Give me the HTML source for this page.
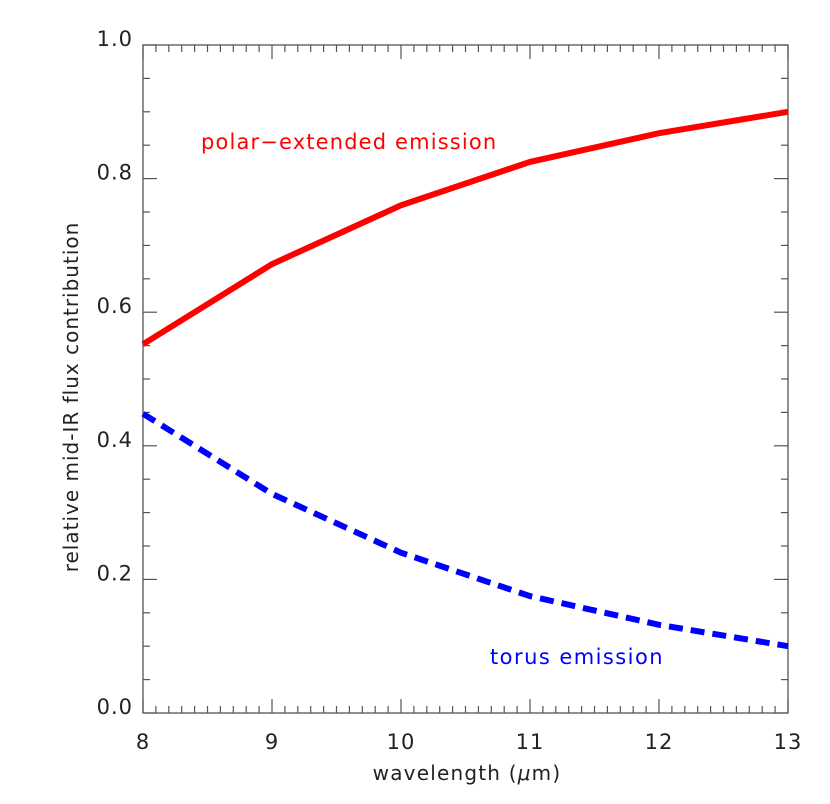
<!DOCTYPE html>
<html><head><meta charset="utf-8"><style>
html,body{margin:0;padding:0;background:#fff;}
svg{display:block;font-family:"DejaVu Sans","Liberation Sans",sans-serif;}
</style></head><body>
<svg id="chart" width="830" height="804"></svg>
<script>
const wavelengths = [8, 9, 10, 11, 12, 13];
const polarValues = [0.552, 0.672, 0.760, 0.825, 0.868, 0.900];
const torusValues = [0.448, 0.328, 0.240, 0.175, 0.132, 0.100];
const xTickLabels = ["8", "9", "10", "11", "12", "13"];
const yTickLabels = ["0.0", "0.2", "0.4", "0.6", "0.8", "1.0"];

const L = 143, R = 788, T = 45, B = 713;
const xMin = 8, xMax = 13, yMin = 0, yMax = 1;
const xs = v => L + (v - xMin) / (xMax - xMin) * (R - L);
const ys = v => B - (v - yMin) / (yMax - yMin) * (B - T);
const svg = document.getElementById('chart');
const NS = 'http://www.w3.org/2000/svg';
function mk(tag, attrs, parent) {
  const e = document.createElementNS(NS, tag);
  for (const k in attrs) e.setAttribute(k, attrs[k]);
  (parent || svg).appendChild(e);
  return e;
}
const axisColor = '#555';
const frame = mk('rect', {x: L, y: T, width: R - L, height: B - T, fill: 'none', stroke: axisColor, 'stroke-width': 1.3});



for (let i = 0; i <= 50; i++) {
  const v = xMin + i * 0.1;
  const x = xs(v);
  const len = i % 10 === 0 ? 14 : 7;
  const t1 = mk('line', {x1: x, x2: x, y1: B, y2: B - len, stroke: axisColor, 'stroke-width': 1.2});
  
  
  const t2 = mk('line', {x1: x, x2: x, y1: T, y2: T + len, stroke: axisColor, 'stroke-width': 1.2});
  
  
}
xTickLabels.forEach((lab, i) => {
  const t = mk('text', {x: xs(wavelengths[i]), y: 749, 'text-anchor': 'middle', 'font-size': 21, fill: '#222', 'letter-spacing': 1});
  t.textContent = lab;
  
  
});
for (let i = 0; i <= 20; i++) {
  const v = i * 0.05;
  const y = ys(v);
  const len = i % 4 === 0 ? 14 : 7;
  const t1 = mk('line', {x1: L, x2: L + len, y1: y, y2: y, stroke: axisColor, 'stroke-width': 1.2});
  
  
  const t2 = mk('line', {x1: R, x2: R - len, y1: y, y2: y, stroke: axisColor, 'stroke-width': 1.2});
  
  
}
yTickLabels.forEach((lab, i) => {
  const t = mk('text', {x: 133, y: ys(i * 0.2) + 1, 'text-anchor': 'end', 'font-size': 21, fill: '#222', 'letter-spacing': 1});
  t.textContent = lab;
  
  
});
const xt = mk('text', {x: 467, y: 780, 'text-anchor': 'middle', 'font-size': 20, fill: '#222', 'letter-spacing': 1.2});
xt.innerHTML = 'wavelength (<tspan font-style="italic">μ</tspan>m)';


const yt = mk('text', {x: 0, y: 0, 'text-anchor': 'middle', 'font-size': 20, fill: '#222', transform: 'translate(78,397) rotate(-90)', 'letter-spacing': 1.0});
yt.textContent = 'relative mid-IR flux contribution';



function pts(vals) { return vals.map((v, i) => xs(wavelengths[i]) + ',' + ys(v)).join(' '); }
const red = mk('polyline', {points: pts(polarValues), fill: 'none', stroke: '#ff0000', 'stroke-width': 6});


const blue = mk('polyline', {points: pts(torusValues), fill: 'none', stroke: '#0000ff', 'stroke-width': 6, 'stroke-dasharray': '14 8'});



const l1 = mk('text', {x: 201, y: 149, 'font-size': 21, fill: '#ff0000', 'letter-spacing': 1.15});
l1.textContent = 'polar−extended emission';


const l2 = mk('text', {x: 490, y: 664, 'font-size': 21, fill: '#0000ff', 'letter-spacing': 1.45});
l2.textContent = 'torus emission';


</script>
</body></html>
